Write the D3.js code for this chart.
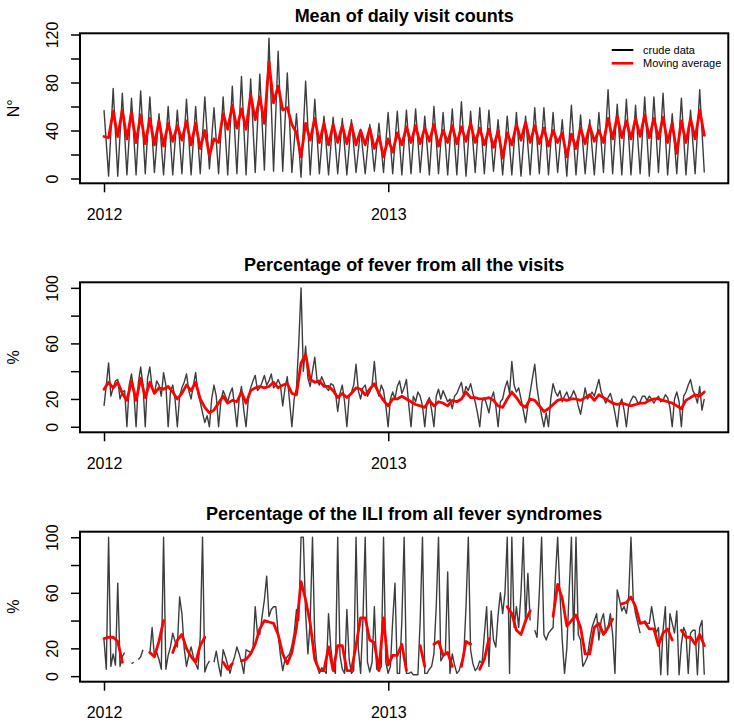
<!DOCTYPE html>
<html><head><meta charset="utf-8">
<script src="https://cdn.jsdelivr.net/npm/d3@7"></script>
<style>
body{margin:0;background:#fff}
svg{display:block}
text{font-family:"Liberation Sans",Arial,Helvetica,sans-serif;fill:#000}
</style>
</head><body>
<svg id="chart" width="734" height="722"></svg>
<script>
// ---------- data ----------
const startDate = "2012-01-01";
const stepDays = 5.9;            // sampling interval of the coarse series (days)
const stepDaysFine = 2.95;       // sampling interval of the fine series (days)
const xTickDates = ["2012-01-01", "2013-01-01"];
const xTickLabels = ["2012", "2013"];
const panelTitles = ["Mean of daily visit counts", "Percentage of fever from all the visits", "Percentage of the ILI from all fever syndromes"];
const yAxisTitles = ["N°", "%", "%"];
const visitTicks = [0, 20, 40, 60, 80, 100, 120];
const visitTickLabels = [0, 40, 80, 120];
const pctTicks = [0, 20, 40, 60, 80, 100];
const pctTickLabels = [0, 20, 60, 100];
const legendLabels = ["crude data", "Moving average"];

// Mean of daily visit counts (coarse sampling)
const visitsCrude = [57,
 2,75, 2,71, 3,67, 3,73, 4,68, 5,54, 3,60, 3,57, 4,66, 3,60,
 4,68, 8,59, 4,68, 3,77, 4,85, 3,83, 5,87, 7,117, 6,106, 6,88,
 5,54, 1,81, 3,66, 4,52, 3,51, 4,50, 3,49, 5,41, 4,45, 6,46,
 5,55, 4,56, 3,57, 4,58, 5,52, 3,60, 4,55, 3,58, 3,64, 2,56,
 5,59, 4,57, 6,49, 3,52, 3,55, 2,52, 3,59, 4,59, 3,55, 5,49,
 2,61, 3,53, 4,49, 3,55, 5,74, 4,62, 3,66, 3,61, 4,68, 2,68,
 5,71, 3,54, 4,67, 3,57, 4,74,
 5];
const visitsMA = [35,
 34,56, 35,57, 33,55, 30,53, 29,50, 28,48, 27,46, 31,44, 32,48, 28,46,
 25,40, 19,33, 30,54, 41,61, 42,58, 41,70, 49,68, 46,97, 63,77, 57,59,
 45,38, 18,46, 32,50, 30,46, 28,45, 30,44, 29,45, 28,40, 28,42, 25,35,
 18,33, 22,38, 28,43, 30,44, 29,42, 31,45, 27,40, 30,44, 29,43, 31,46,
 30,42, 28,41, 26,40, 17,38, 28,45, 32,47, 30,44, 29,42, 27,40, 30,38,
 18,37, 25,42, 29,44, 31,40, 30,50, 33,52, 34,48, 33,50, 35,53, 34,50,
 33,51, 30,46, 21,48, 30,50, 33,57,
 36];

// Percentage of fever (crude: fine sampling, MA: coarse sampling)
const feverCrude = [
 15,30, 46,22, 28,33, 34,20, 25,26, 0,30, 38,25, 0,32, 43,30, 0,35,
 43,28, 24,33, 30,22, 39,30, 0,25, 30,20, 0,22, 28,32, 38,26, 20,30,
 39,24, 18,10, 3,8, 0,20, 30,22, 0,18, 26,22, 18,24, 28,15, 0,20,
 29,12, 0,20, 28,33, 37,26, 28,32, 37,30, 33,38, 28,30, 34,30, 15,28,
 36,18, 0,20, 28,60, 100,40, 58,35, 29,40, 50,33, 30,36, 32,28, 26,31,
 30,25, 11,24, 30,18, 0,22, 25,30, 45,26, 20,28, 30,22, 25,30, 47,28,
 22,30, 26,15, 0,20, 25,20, 29,33, 24,28, 34,16, 0,22, 18,25, 22,15,
 0,18, 21,12, 0,22, 27,20, 26,22, 18,20, 13,22, 24,28, 32,22, 29,26,
 31,24, 18,10, 0,18, 21,16, 10,20, 25,15, 0,18, 20,28, 33,24, 47,30,
 25,28, 20,12, 3,15, 25,35, 45,28, 17,8, 0,10, 0,20, 31,25, 22,26,
 18,22, 25,20, 22,26, 22,15, 9,18, 28,20, 22,25, 22,28, 34,25, 21,17,
 21,24, 18,10, 0,16, 20,12, 0,15, 19,22, 21,17, 18,22, 22,19, 22,20,
 17,20, 22,18, 19,23, 21,14, 0,20, 25,18, 0,22, 25,30, 34,26, 23,17,
 29,12, 20];
const feverMA = [
 27,32,28,32,24,19,33,19,35,21,
 32,24,28,27,29,25,20,24,30,26,
 32,20,14,10,12,17,22,17,19,18,
 25,17,26,28,29,28,29,32,28,30,
 31,24,23,46,52,34,32,33,29,29,
 26,21,24,21,24,28,27,23,27,31,
 24,19,15,20,20,22,20,18,16,15,
 14,19,15,18,17,15,19,18,20,25,
 21,21,20,20,21,19,15,14,20,25,
 21,16,14,20,19,15,11,13,16,19,
 20,19,20,20,19,21,23,19,23,21,
 19,17,16,17,16,15,16,17,17,19,
 20,20,19,18,17,15,13,19,21,23,
 22,25];

// Percentage of ILI (crude: fine sampling, MA: coarse sampling; null = missing)
const iliCrude = [
 26,5,100,7,16,8,67,7,14,17,
 null,null,9,10,null,12,14,19,null,null,
 16,35,14,17,12,5,100,5,15,21,
 31,25,21,57,45,20,7,15,21,14,
 9,5,28,100,3,8,11,null,10,18,
 8,0,19,14,8,2,9,14,21,16,
 10,2,19,18,17,19,50,30,30,43,
 55,72,43,48,50,50,31,15,4,12,
 14,16,22,31,48,40,100,100,45,16,
 40,100,25,8,2,6,4,2,45,20,
 6,2,100,15,5,2,48,12,2,4,
 100,20,2,40,100,10,3,10,50,5,
 4,7,100,10,2,7,40,67,2,2,
 40,100,2,2,3,1,1,1,40,100,
 2,2,5,7,16,50,100,11,14,16,
 75,2,16,8,2,4,10,14,50,100,
 19,9,4,6,11,9,30,50,7,47,
 26,21,44,60,45,60,100,2,100,35,
 50,35,60,100,38,74,40,null,33,28,
 60,100,30,26,31,33,35,71,100,60,
 26,2,20,60,100,26,100,30,26,7,
 10,14,26,35,40,45,26,40,45,31,
 35,45,30,2,62,55,47,50,45,57,
 100,55,45,38,31,null,40,38,38,50,
 40,31,35,1,33,50,1,45,38,31,
 47,1,23,35,31,2,31,33,33,1,
 35,40,1];
const iliMA = [
 27,28,28,25,10,null,null,null,null,null,
 17,14,25,40,null,17,26,30,20,14,
 10,22,28,null,null,null,10,5,9,null,
 11,12,16,23,34,40,39,38,30,16,
 9,17,35,68,55,38,12,4,4,21,
 4,22,22,4,4,22,42,42,26,24,
 4,42,8,15,15,23,4,null,null,22,
 7,null,23,25,15,17,7,null,7,25,
 23,null,5,12,27,null,null,null,50,45,
 33,30,40,47,null,null,null,null,43,66,
 56,36,40,44,35,16,16,35,38,30,
 35,41,null,52,53,57,50,38,39,34,
 34,22,31,34,26,null,33,28,28,23,
 30,22];

// ---------- layout ----------
const svg = d3.select("#chart");
const left = 80, right = 728.3, boxH = 150;
const boxTops = [33.3, 282.3, 531.7];
const dayMs = 864e5;
const t0 = Date.parse(startDate + "T00:00:00Z");
const dateAt = (i, step) => new Date(t0 + i * step * dayMs);
const spanMs = (visitsCrude.length - 1) * stepDays * dayMs;
const x = d3.scaleUtc()
  .domain([new Date(t0 - 0.04 * spanMs), new Date(t0 + 1.04 * spanMs)])
  .range([left, right]);

const panels = [
  {title: panelTitles[0], ytitle: yAxisTitles[0], ydom: [-4, 121], ticks: visitTicks, labels: visitTickLabels,
   crude: visitsCrude, crudeStep: stepDays, ma: visitsMA, legend: true},
  {title: panelTitles[1], ytitle: yAxisTitles[1], ydom: [-4, 104], ticks: pctTicks, labels: pctTickLabels,
   crude: feverCrude, crudeStep: stepDaysFine, ma: feverMA},
  {title: panelTitles[2], ytitle: yAxisTitles[2], ydom: [-4, 104], ticks: pctTicks, labels: pctTickLabels,
   crude: iliCrude, crudeStep: stepDaysFine, ma: iliMA}
];

panels.forEach((p, pi) => {
  const top = boxTops[pi], bottom = top + boxH;
  const y = d3.scaleLinear().domain(p.ydom).range([bottom, top]);
  const g = svg.append("g");
  const mkLine = step => d3.line()
    .defined(v => v !== null && v !== undefined)
    .x((v, i) => x(dateAt(i, step)))
    .y(v => y(v));

  g.append("path").datum(p.crude).attr("d", mkLine(p.crudeStep))
    .attr("fill", "none").attr("stroke", "#3d3d3d").attr("stroke-width", 1.4)
    .attr("stroke-linejoin", "round");
  g.append("path").datum(p.ma).attr("d", mkLine(stepDays))
    .attr("fill", "none").attr("stroke", "#ff0000").attr("stroke-width", 2.8)
    .attr("stroke-linejoin", "round").attr("stroke-linecap", "round");

  // box
  g.append("rect").attr("x", left).attr("y", top).attr("width", right - left).attr("height", boxH)
    .attr("fill", "none").attr("stroke", "#000").attr("stroke-width", 2);

  // y axis
  const ya = g.append("g").attr("transform", `translate(${left},0)`)
    .call(d3.axisLeft(y).tickValues(p.ticks).tickSize(9)
      .tickFormat(v => p.labels.includes(v) ? String(v) : ""));
  ya.select(".domain").remove();
  ya.selectAll(".tick line").attr("stroke", "#000").attr("stroke-width", 1.5);
  ya.selectAll(".tick text")
    .attr("transform", "rotate(-90)")
    .attr("x", 0).attr("y", -22).attr("dy", 0)
    .attr("text-anchor", "middle")
    .style("font-size", "16px").style("font-family", '"Liberation Sans",Arial,sans-serif');

  // x axis
  const xa = g.append("g").attr("transform", `translate(0,${bottom})`)
    .call(d3.axisBottom(x).tickValues(xTickDates.map(s => new Date(s + "T00:00:00Z"))).tickSize(9)
      .tickFormat((d, i) => xTickLabels[i]));
  xa.select(".domain").remove();
  xa.selectAll(".tick line").attr("stroke", "#000").attr("stroke-width", 1.5);
  xa.selectAll(".tick text").attr("y", 36.5).attr("dy", 0)
    .style("font-size", "16px").style("font-family", '"Liberation Sans",Arial,sans-serif');

  // title
  g.append("text").attr("x", (left + right) / 2).attr("y", top - 11.5)
    .attr("text-anchor", "middle").style("font-weight", "bold").style("font-size", "18px")
    .text(p.title);

  // y-axis title
  g.append("text").attr("transform", `translate(18.5,${top + boxH / 2}) rotate(-90)`)
    .attr("text-anchor", "middle").style("font-size", "16px").text(p.ytitle);

  if (p.legend) {
    const lg = g.append("g");
    const colors = ["#000", "#ff0000"], widths = [2, 2.6];
    legendLabels.forEach((lab, li) => {
      const ly = 50 + li * 13.3;
      lg.append("line").attr("x1", 611.7).attr("x2", 633.3).attr("y1", ly).attr("y2", ly)
        .attr("stroke", colors[li]).attr("stroke-width", widths[li]);
      lg.append("text").attr("x", 643).attr("y", ly + 4).style("font-size", "11px").text(lab);
    });
  }
});
</script>
</body></html>
